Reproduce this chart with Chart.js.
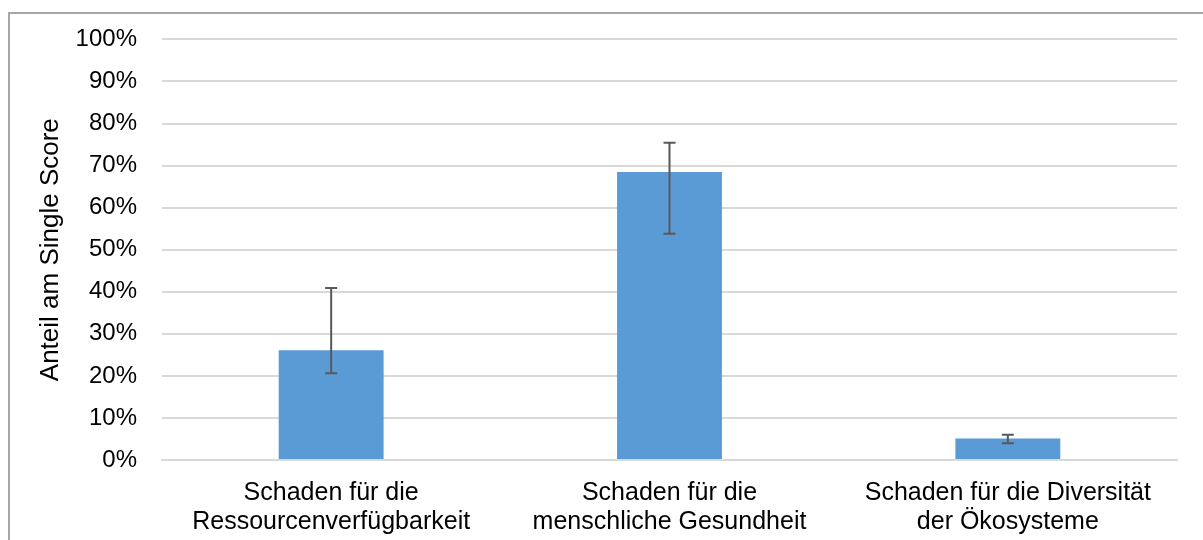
<!DOCTYPE html>
<html>
<head>
<meta charset="utf-8">
<script src="https://cdn.jsdelivr.net/npm/chart.js@4.4.0/dist/chart.umd.min.js"></script>
<style>
  html, body { margin: 0; padding: 0; background: #fff; }
  #wrap { position: relative; width: 1203px; height: 540px; overflow: hidden; }
  #frame { position: absolute; left: 8px; top: 12px; width: 1300px; height: 600px;
           border-top: 2px solid #a6a6a6; border-left: 2px solid #a6a6a6; box-sizing: border-box; }
  canvas { position: absolute; left: 0; top: 0; }
</style>
</head>
<body>
<div id="wrap">
  <div id="frame"></div>
  <canvas id="chart" width="1203" height="540"></canvas>
</div>
<script>
const categories = [
  ['Schaden für die', 'Ressourcenverfügbarkeit'],
  ['Schaden für die', 'menschliche Gesundheit'],
  ['Schaden für die Diversität', 'der Ökosysteme']
];
const shares = [26.1, 68.5, 5.1];
const errHigh = [40.9, 75.4, 6.0];
const errLow = [20.6, 53.8, 4.0];

const FONT = 'Liberation Sans, Arial, sans-serif';

// error bars drawn through the y scale
const errorBars = {
  id: 'errorBars',
  afterDatasetsDraw(chart) {
    const { ctx, scales: { y } } = chart;
    const meta = chart.getDatasetMeta(0);
    ctx.save();
    ctx.strokeStyle = '#595959';
    ctx.lineWidth = 2;
    meta.data.forEach((bar, i) => {
      const top = y.getPixelForValue(errHigh[i]);
      const bot = y.getPixelForValue(errLow[i]);
      const x = bar.x;
      ctx.beginPath();
      ctx.moveTo(x, top); ctx.lineTo(x, bot);
      ctx.moveTo(x - 6, top); ctx.lineTo(x + 6, top);
      ctx.moveTo(x - 6, bot); ctx.lineTo(x + 6, bot);
      ctx.stroke();
    });
    ctx.restore();
  }
};

new Chart(document.getElementById('chart'), {
  type: 'bar',
  data: {
    labels: categories,
    datasets: [{
      data: shares,
      backgroundColor: '#5b9bd5',
      borderWidth: 0,
      barPercentage: 0.31,
      categoryPercentage: 1
    }]
  },
  options: {
    responsive: false,
    animation: false,
    layout: { padding: { left: 35, top: 28, right: 26, bottom: 0 } },
    plugins: { legend: { display: false }, tooltip: { enabled: false } },
    scales: {
      x: {
        grid: { display: false, drawTicks: false },
        border: { color: '#d9d9d9', width: 2 },
        ticks: {
          color: '#000', padding: 19, maxRotation: 0,
          font: { family: FONT, size: 25, lineHeight: 1.14 }
        },
        afterFit(axis) { axis.height = 80; }
      },
      y: {
        min: 0, max: 100,
        ticks: {
          stepSize: 10, color: '#000', padding: 25,
          font: { family: FONT, size: 24 },
          callback: v => v + '%'
        },
        grid: { color: '#d9d9d9', lineWidth: 2, drawTicks: false },
        border: { display: false },
        title: {
          display: true, text: 'Anteil am Single Score', color: '#000',
          padding: { top: 0, bottom: 0 },
          font: { family: FONT, size: 26 }
        },
        afterFit(axis) { axis.width = 127; }
      }
    }
  },
  plugins: [errorBars]
});
</script>
</body>
</html>
